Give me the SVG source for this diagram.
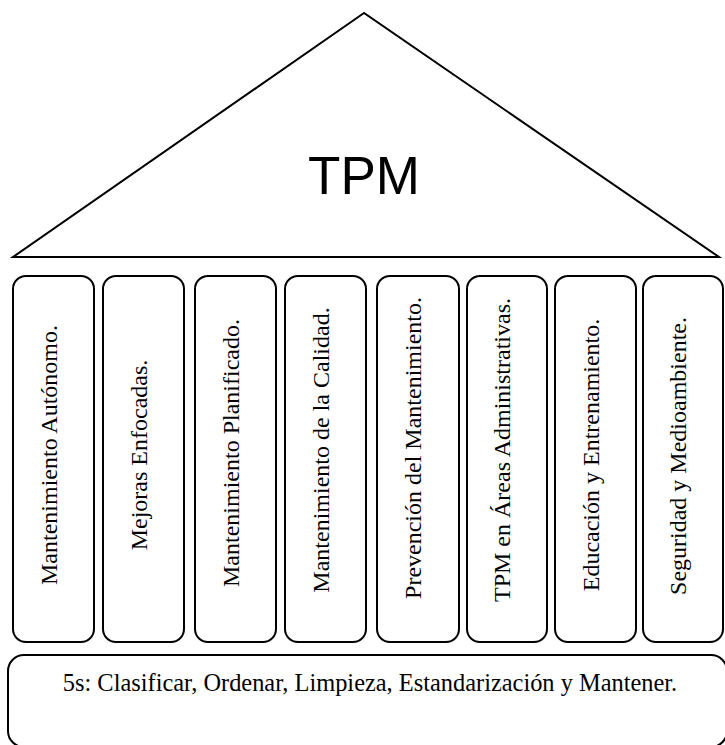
<svg xmlns="http://www.w3.org/2000/svg" width="725" height="745" viewBox="0 0 725 745">
<style>
.shape{fill:#fff;stroke:#000;stroke-width:2}
.pt{font-family:"Liberation Serif","Times New Roman",serif;font-size:24px;fill:#000;text-anchor:middle}
.bt{font-family:"Liberation Serif","Times New Roman",serif;font-size:24.4px;fill:#000;text-anchor:middle}
.tpm{font-family:"Liberation Sans",Arial,sans-serif;font-size:53px;fill:#000;text-anchor:middle}
</style>
<rect width="725" height="745" fill="#fff"/>
<g id="roof">
<polygon class="shape" points="364,13 13,257 719,257"/>
<text class="tpm" x="364" y="194">TPM</text>
</g>
<g id="pillar1"><rect class="shape" x="13" y="276" width="81" height="366" rx="13"/><text class="pt" transform="translate(57,455) rotate(-90)">Mantenimiento Autónomo.</text></g>
<g id="pillar2"><rect class="shape" x="103" y="276" width="81" height="366" rx="13"/><text class="pt" transform="translate(147,455) rotate(-90)">Mejoras Enfocadas.</text></g>
<g id="pillar3"><rect class="shape" x="195" y="276" width="81" height="366" rx="13"/><text class="pt" transform="translate(239,453) rotate(-90)">Mantenimiento Planificado.</text></g>
<g id="pillar4"><rect class="shape" x="285" y="276" width="81" height="366" rx="13"/><text class="pt" transform="translate(329,450) rotate(-90)">Mantenimiento de la Calidad.</text></g>
<g id="pillar5"><rect class="shape" x="377" y="276" width="82" height="366" rx="13"/><text class="pt" transform="translate(421,448) rotate(-90)">Prevención del Mantenimiento.</text></g>
<g id="pillar6"><rect class="shape" x="467" y="276" width="80" height="366" rx="13"/><text class="pt" transform="translate(510,450) rotate(-90)">TPM en Áreas Administrativas.</text></g>
<g id="pillar7"><rect class="shape" x="555" y="276" width="81" height="366" rx="13"/><text class="pt" transform="translate(599,455) rotate(-90)">Educación y Entrenamiento.</text></g>
<g id="pillar8"><rect class="shape" x="643" y="276" width="80" height="366" rx="13"/><text class="pt" transform="translate(686,456) rotate(-90)">Seguridad y Medioambiente.</text></g>
<g id="base"><rect class="shape" x="8" y="655" width="719" height="92" rx="16"/><text class="bt" x="370" y="691">5s: Clasificar, Ordenar, Limpieza, Estandarización y Mantener.</text></g>
<g id="connectors"></g>
</svg>
